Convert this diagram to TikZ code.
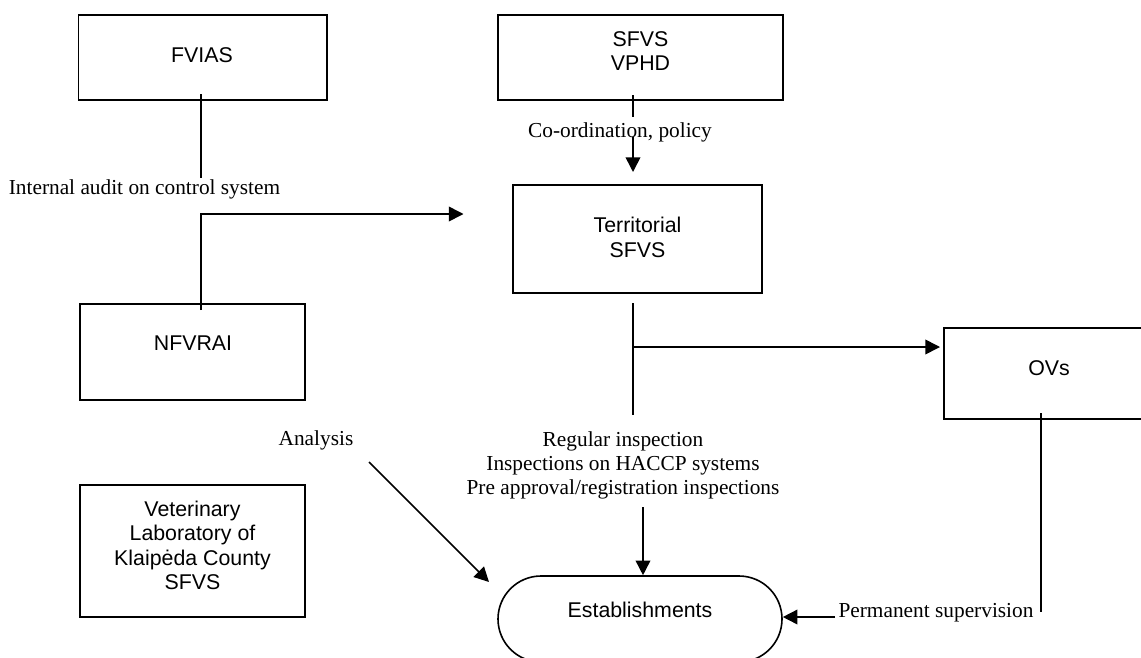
\documentclass[tikz,border=0pt]{standalone}
\usepackage{fontspec}
\setmainfont{Liberation Serif}
\newfontfamily\boxfont{Liberation Sans}
\usetikzlibrary{arrows.meta,shapes.misc}
\begin{document}
\begin{tikzpicture}[x=0.75pt,y=-0.75pt,
  box/.style={draw, line width=1.2pt, rectangle, inner sep=0pt},
  btext/.style={font=\boxfont\fontsize{16}{18.4}\selectfont, align=center, inner sep=0pt},
  lbl/.style={font=\fontsize{16}{18}\selectfont, align=center, inner sep=0pt},
  conn/.style={line width=1.2pt},
  arr/.style={line width=1.2pt, -{Triangle[length=11pt,width=11pt]}},
]
\useasboundingbox (0,0) rectangle (1141,657);
\clip (0,0) rectangle (1141,657);

% boxes
\node[box, minimum width=248.5*0.75pt, minimum height=85*0.75pt] (fvias) at (202.75,57.5) {};
\node[btext] (fviasT) at (202,55) {FVIAS};
\node[box, minimum width=285*0.75pt, minimum height=85*0.75pt] (sfvs) at (640.5,57.5) {};
\node[btext] (sfvsT) at (640.5,51) {SFVS\\VPHD};
\node[box, minimum width=249*0.75pt, minimum height=108*0.75pt] (terr) at (637.5,239) {};
\node[btext] (terrT) at (637.5,237.5) {Territorial\\SFVS};
\node[box, minimum width=225*0.75pt, minimum height=96*0.75pt] (nfvrai) at (192.5,352) {};
\node[btext] (nfvraiT) at (193,343) {NFVRAI};
\node[box, minimum width=225*0.75pt, minimum height=132*0.75pt] (vet) at (192.5,551) {};
\node[btext] (vetT) at (192.5,545.5) {Veterinary\\Laboratory of\\Klaipėda County\\SFVS};
\node[box, minimum width=210*0.75pt, minimum height=91*0.75pt] (ovs) at (1049,373.5) {};
\node[btext] (ovsT) at (1049,368) {OVs};
\node[draw, line width=1.2pt, rounded rectangle, inner sep=0pt, minimum width=284*0.75pt, minimum height=86*0.75pt] (est) at (640,619) {};
\node[btext] (estT) at (640,610) {Establishments};

% labels
\node[lbl] (audit) at (144.5,189) {Internal audit on control system};
\node[lbl] (coord) at (620,132) {Co-ordination, policy};
\node[lbl] (insp) at (623,465) {Regular inspection\\Inspections on HACCP systems\\Pre approval/registration inspections};
\node[lbl] (anal) at (316,440) {Analysis};
\node[lbl] (perm) at (936,613) {Permanent supervision};

% connector points
\coordinate (f1) at (200.7,94);
\coordinate (f2) at (200.7,178);
\coordinate (n1) at (200.7,310);
\coordinate (auditTip) at (463.5,214);
\coordinate (s1) at (633,95);
\coordinate (s2) at (633,117);
\coordinate (s3) at (633,137);
\coordinate (s4) at (633,172);
\coordinate (t1) at (633,303);
\coordinate (t2) at (633,415);
\coordinate (t3) at (633,347);
\coordinate (t4) at (940,347);
\coordinate (i1) at (643,507);
\coordinate (a1) at (369,462);
\coordinate (a2) at (489,582);
\coordinate (o1) at (1041,413);
\coordinate (o2) at (1041,612);
\coordinate (p1) at (835,617);

% connectors
\draw[conn] (f1) -- (f2);
\draw[arr] (n1) |- (auditTip);
\draw[conn] (s1) -- (s2);
\draw[arr] (s3) -- (s4);
\draw[conn] (t1) -- (t2);
\draw[arr] (t3) -- (t4);
\draw[arr] (i1) -- (i1 |- est.north);
\draw[arr] (a1) -- (a2);
\draw[conn] (o1) -- (o2);
\draw[arr] (p1) -- (p1 -| est.east);
\end{tikzpicture}
\end{document}
